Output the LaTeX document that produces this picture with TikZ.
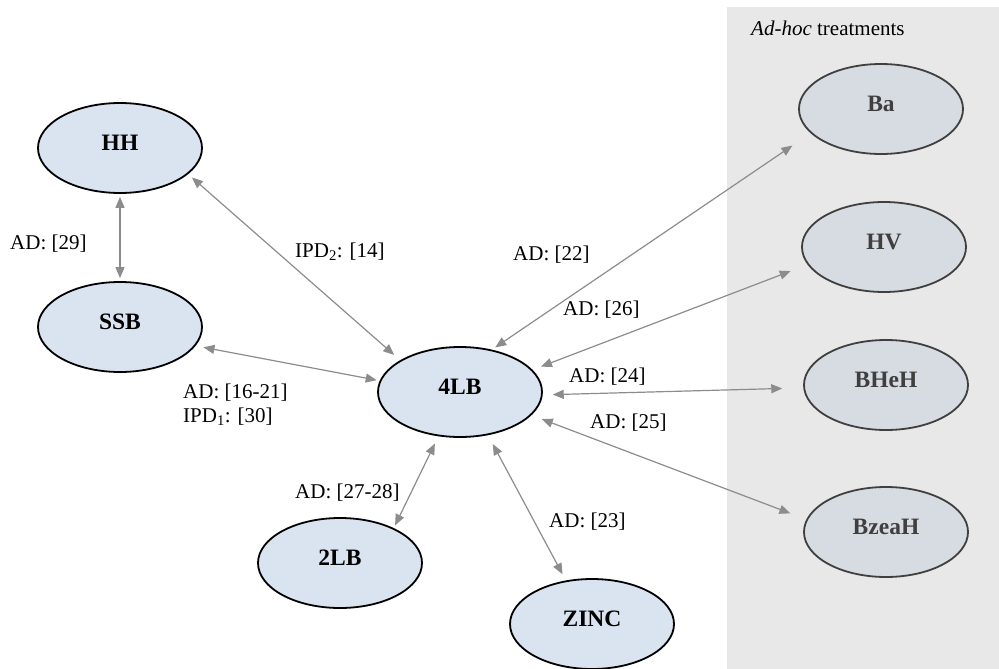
\documentclass[tikz,border=0pt]{standalone}
\usepackage{fontspec}
\setmainfont{Liberation Serif}
\usetikzlibrary{shapes.geometric,arrows.meta}
\definecolor{nodeblue}{HTML}{DAE3F0}
\definecolor{nodegray}{HTML}{D7DCE2}
\definecolor{panelgray}{HTML}{E8E8E8}
\definecolor{edgegray}{HTML}{8C8C8C}
\definecolor{darktext}{HTML}{3F3F3F}
\tikzset{
  mainnode/.style={ellipse, draw=black, line width=1.8pt, fill=nodeblue,
    minimum width=164pt, minimum height=90pt, inner sep=0pt,
    text height=16pt, text depth=12pt,
    font=\fontsize{23.5}{28}\selectfont\bfseries},
  adhocnode/.style={mainnode, draw=darktext, fill=nodegray, text=darktext},
  link/.style={draw=edgegray, line width=1.2pt,
    {Triangle[length=11pt,width=9pt]}-{Triangle[length=11pt,width=9pt]}},
  lbl/.style={font=\fontsize{21}{24}\selectfont, inner sep=0pt, anchor=west, align=left}
}
\begin{document}
\begin{tikzpicture}[x=1pt,y=-1pt]
\useasboundingbox (0,0) rectangle (999,669);
\fill[panelgray] (727,7) rectangle (999,669);
\node[lbl] (title) at (751,28) {\textit{Ad-hoc} treatments};

\node[mainnode] (hh) at (120,148) {HH};
\node[mainnode] (ssb) at (120,327) {SSB};
\node[mainnode] (lb4) at (460,392) {4LB};
\node[mainnode] (lb2) at (340,563) {2LB};
\node[mainnode] (zinc) at (592,624) {ZINC};
\node[adhocnode] (ba) at (881,109) {Ba};
\node[adhocnode] (hv) at (884,247) {HV};
\node[adhocnode] (bheh) at (886,385) {BHeH};
\node[adhocnode] (bzeah) at (886,532) {BzeaH};

\draw[link, shorten <=3pt, shorten >=3pt] (hh.south) -- (ssb.north);
\draw[link, shorten <=5pt, shorten >=8pt] (hh.-21.5) -- (lb4.152);
\draw[link, shorten <=8pt, shorten >=3pt] (ssb.-14.4) -- (lb4.172.4);
\draw[link, shorten <=8pt, shorten >=3pt] (lb4.-116.1) -- (lb2.33.2);
\draw[link, shorten <=10pt, shorten >=7pt] (lb4.-57.1) -- (zinc.121.5);
\draw[link, shorten <=4pt, shorten >=22pt] (lb4.53.7) -- (ba.-161.2);
\draw[link, shorten <=9pt, shorten >=18pt] (lb4.17.4) -- (hv.-167.4);
\draw[link, shorten <=10pt, shorten >=21pt] (lb4.-2.5) -- (bheh.-178.3);
\draw[link, shorten <=11pt, shorten >=17pt] (lb4.-18.4) -- (bzeah.171.7);

\node[lbl] (l29) at (10,244) {AD: [29]};
\node[lbl] (l14) at (295,252) {IPD\textsubscript{2}: [14]};
\node[lbl] (l16) at (183,405) {AD: [16-21]\\IPD\textsubscript{1}: [30]};
\node[lbl] (l27) at (295,493) {AD: [27-28]};
\node[lbl] (l23) at (549,522) {AD: [23]};
\node[lbl] (l22) at (513,255) {AD: [22]};
\node[lbl] (l26) at (563,310) {AD: [26]};
\node[lbl] (l24) at (569,377) {AD: [24]};
\node[lbl] (l25) at (590,423) {AD: [25]};
\end{tikzpicture}
\end{document}
